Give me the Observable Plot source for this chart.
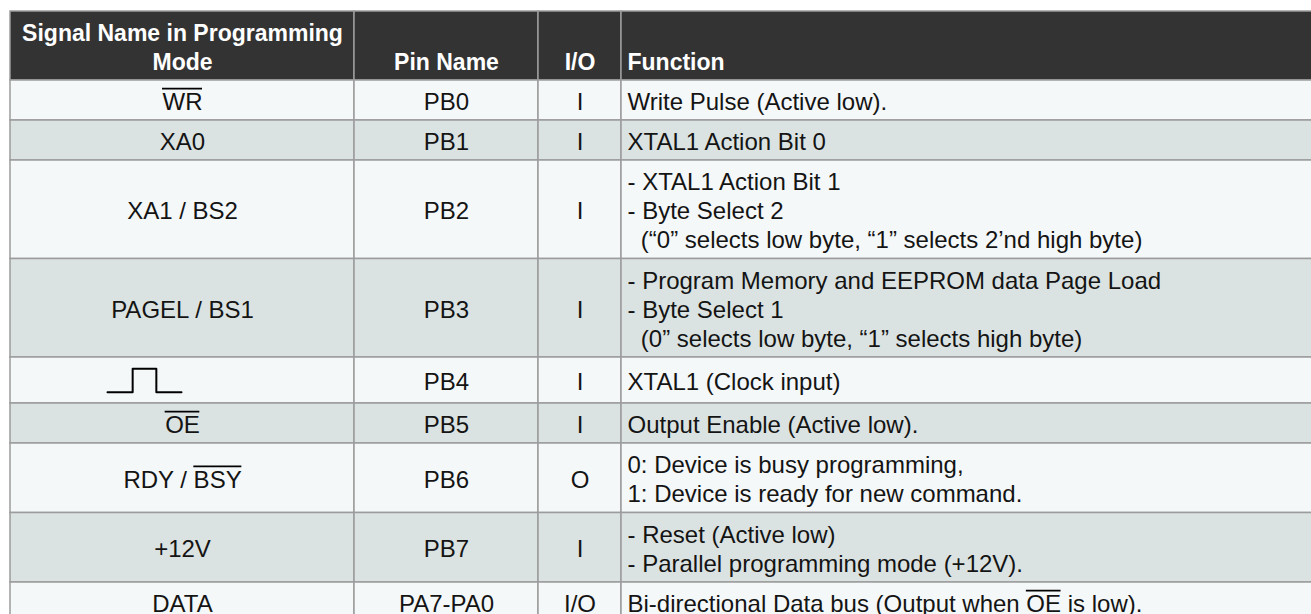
<!DOCTYPE html>
<html>
<head>
<meta charset="utf-8">
<script src="https://cdn.jsdelivr.net/npm/d3@7"></script>
<script src="https://cdn.jsdelivr.net/npm/@observablehq/plot@0.6"></script>
<style>
  html, body { margin: 0; padding: 0; background: #fff; overflow: hidden; }
</style>
</head>
<body>
<div id="chart"></div>
<script>
// ---------- data ----------
const headers = [["Signal Name in Programming", "Mode"], ["Pin Name"], ["I/O"], ["Function"]];
const signals = ["WR", "XA0", "XA1 / BS2", "PAGEL / BS1", "", "OE", "RDY / BSY", "+12V", "DATA"];
const signalOverlined = ["WR", null, null, null, null, "OE", "BSY", null, null];
const pins = ["PB0", "PB1", "PB2", "PB3", "PB4", "PB5", "PB6", "PB7", "PA7-PA0"];
const ios = ["I", "I", "I", "I", "I", "I", "O", "I", "I/O"];
const functions = [
  ["Write Pulse (Active low)."],
  ["XTAL1 Action Bit 0"],
  ["- XTAL1 Action Bit 1", "- Byte Select 2", "\u00a0\u00a0(“0” selects low byte, “1” selects 2’nd high byte)"],
  ["- Program Memory and EEPROM data Page Load", "- Byte Select 1", "\u00a0\u00a0(0” selects low byte, “1” selects high byte)"],
  ["XTAL1 (Clock input)"],
  ["Output Enable (Active low)."],
  ["0: Device is busy programming,", "1: Device is ready for new command."],
  ["- Reset (Active low)", "- Parallel programming mode (+12V)."],
  ["Bi-directional Data bus (Output when OE is low)."]
];
const functionOverlined = [null, null, null, null, null, null, null, null, "OE"];
const clockRow = 4; // the row whose signal is drawn as a clock pulse
const clockWave = [[0, 0], [0.34, 0], [0.34, 1], [0.66, 1], [0.66, 0], [1, 0]];

// ---------- layout / style ----------
const W = 1311, H = 614;
const colEdges = [10, 354, 538, 621, 1330];
const tableTop = 11;
const lineH = 29, rowPad = 11, multiExtra = 0.5, clockRowH = 46;
const fs = 24, hfs = 23;
const font = '"Liberation Sans", Arial, Helvetica, sans-serif';
const headerFill = "#333333", lightFill = "#f4f8f9", darkFill = "#dbe3e2";
const borderColor = "#9c9c9c", textColor = "#141414";
const textPadLeft = 6;
const clockCx = 144, clockW = 74, clockH = 23.6;

// measure text widths
const ctx = document.createElement("canvas").getContext("2d");
function textWidth(s, size, weight = "normal") {
  ctx.font = `${weight} ${size}px ${font}`;
  return ctx.measureText(s).width;
}

// row geometry
const headerLines = headers.reduce((m, h) => Math.max(m, h.length), 0);
const headerH = headerLines * lineH + rowPad;
const rowHeights = functions.map((f, i) =>
  i === clockRow ? clockRowH : f.length * lineH + rowPad + (f.length > 1 ? multiExtra : 0));
const rowTops = [];
{
  let y = tableTop + headerH;
  for (const h of rowHeights) { rowTops.push(y); y += h; }
}
const colCenter = (c) => (colEdges[c] + colEdges[c + 1]) / 2;

// cells
const cells = [];
for (let c = 0; c < 4; c++) {
  cells.push({x1: colEdges[c], x2: colEdges[c + 1], y1: tableTop, y2: tableTop + headerH, fill: headerFill});
}
rowHeights.forEach((h, r) => {
  for (let c = 0; c < 4; c++) {
    cells.push({x1: colEdges[c], x2: colEdges[c + 1], y1: rowTops[r], y2: rowTops[r] + h, fill: r % 2 === 0 ? lightFill : darkFill});
  }
});

// header texts (bottom aligned to the last header line)
const headerTexts = headers.map((h, c) => {
  const lastCenter = tableTop + rowPad / 2 + lineH * (headerLines - 0.5);
  const cy = lastCenter - (h.length - 1) * lineH / 2;
  return {
    x: c === 3 ? colEdges[3] + textPadLeft : colCenter(c),
    y: cy,
    text: h.join("\n"),
    anchor: c === 3 ? "start" : "middle"
  };
});

// body texts
const bodyTexts = [];
rowHeights.forEach((h, r) => {
  const cy = rowTops[r] + h / 2;
  if (r !== clockRow) bodyTexts.push({x: colCenter(0), y: cy, text: signals[r], anchor: "middle"});
  bodyTexts.push({x: colCenter(1), y: cy, text: pins[r], anchor: "middle"});
  bodyTexts.push({x: colCenter(2), y: cy, text: ios[r], anchor: "middle"});
  bodyTexts.push({x: colEdges[3] + textPadLeft, y: cy, text: functions[r].join("\n"), anchor: "start"});
});

// overlines
const overlines = [];
const capOff = fs * 0.36 + 3.2;
signalOverlined.forEach((o, r) => {
  if (!o) return;
  const s = signals[r];
  const total = textWidth(s, fs);
  const start = colCenter(0) - total / 2 + textWidth(s.slice(0, s.indexOf(o)), fs);
  const cy = rowTops[r] + rowHeights[r] / 2;
  overlines.push({x1: start, x2: start + textWidth(o, fs), y: cy - capOff});
});
functionOverlined.forEach((o, r) => {
  if (!o) return;
  const s = functions[r][0];
  const start = colEdges[3] + textPadLeft + textWidth(s.slice(0, s.indexOf(o)), fs);
  const cy = rowTops[r] + rowHeights[r] / 2;
  overlines.push({x1: start, x2: start + textWidth(o, fs), y: cy - capOff});
});

// clock pulse glyph
const clockCy = rowTops[clockRow] + rowHeights[clockRow] / 2;
const clockPts = clockWave.map(([u, v]) => ({x: clockCx - clockW / 2 + u * clockW, y: clockCy + clockH / 2 - v * clockH}));

const isStart = (d) => d.anchor === "start";
const isMiddle = (d) => d.anchor === "middle";

const chart = Plot.plot({
  width: W,
  height: H,
  margin: 0,
  x: {type: "linear", domain: [0, W], range: [0, W], axis: null},
  y: {type: "linear", domain: [0, H], range: [0, H], axis: null},
  color: {type: "identity"},
  style: {fontFamily: font, background: "#ffffff", overflow: "hidden"},
  marks: [
    Plot.rect(cells, {x1: "x1", x2: "x2", y1: "y1", y2: "y2", fill: "fill", stroke: borderColor, strokeWidth: 1.5}),
    Plot.text(headerTexts.filter(isMiddle), {x: "x", y: "y", text: "text", textAnchor: "middle", fill: "#ffffff", fontSize: hfs, fontWeight: "bold", lineHeight: lineH / hfs, lineAnchor: "middle"}),
    Plot.text(headerTexts.filter(isStart), {x: "x", y: "y", text: "text", textAnchor: "start", fill: "#ffffff", fontSize: hfs, fontWeight: "bold", lineHeight: lineH / hfs, lineAnchor: "middle"}),
    Plot.text(bodyTexts.filter(isMiddle), {x: "x", y: "y", text: "text", textAnchor: "middle", fill: textColor, fontSize: fs, lineHeight: lineH / fs, lineAnchor: "middle"}),
    Plot.text(bodyTexts.filter(isStart), {x: "x", y: "y", text: "text", textAnchor: "start", fill: textColor, fontSize: fs, lineHeight: lineH / fs, lineAnchor: "middle"}),
    Plot.ruleY(overlines, {x1: "x1", x2: "x2", y: "y", stroke: "#000000", strokeWidth: 1.8}),
    Plot.line(clockPts, {x: "x", y: "y", stroke: "#000000", strokeWidth: 2, curve: "linear"})
  ]
});
document.getElementById("chart").appendChild(chart);
</script>
</body>
</html>
